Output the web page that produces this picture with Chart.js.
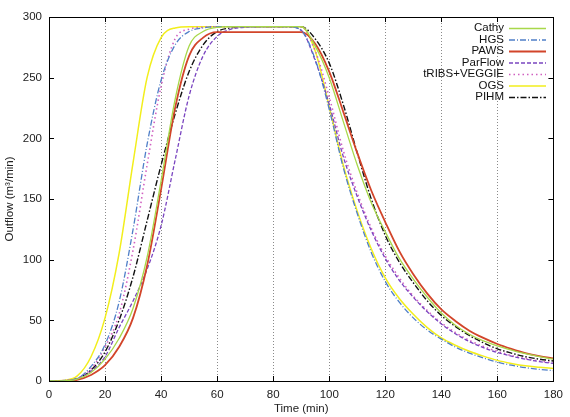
<!DOCTYPE html>
<html>
<head>
<meta charset="utf-8">
<script src="https://cdn.jsdelivr.net/npm/chart.js@4.4.0/dist/chart.umd.min.js"></script>
<style>
  body { margin: 0; background: #fff; }
  #wrap { width: 570px; height: 417px; }
</style>
</head>
<body>
<div id="wrap"><canvas id="mycanvas" width="570" height="417"></canvas></div>
<script>
// time axis (min)
var times = [0,5,10,15,20,25,30,35,40,45,50,55,60,65,70,75,80,85,90,95,100,105,110,115,120,125,130,135,140,145,150,155,160,165,170,175,180];

// outflow (m3/min)
var cathy   = [0,0.1,1.5,7,18,35,60,102,165,232,276,288,291.5,292,292,292,292,292,292,276,250,214,178,147,123,101,84,69,56,46,38.5,33,29,25.5,22.5,20,18];
var hgs     = [0,0.3,2,12,30,65,125,195,248,277,288,291,292,292,292,292,292,292,289,265,224,176,138,106,82,65,52,42,34.5,28,23,19,15.5,13,11,9.6,8.5];
var paws    = [0,0.1,1,5,13,28,52,95,158,225,268,283,287.5,287.5,287.5,287.5,287.5,287.5,287.5,278,255,222,188,157,131,107,88,72,59,49.5,41.5,35.5,30.5,26.5,23,20.5,18.7];
var parflow = [0,0.1,2,8,20,44,66,92,128,182,235,268,284,290,291.5,292,292,292,289,264,228,185,152,124,101,83,69,57,47,39,32.5,27.5,23.5,20.5,18,16,14.5];
var tribs   = [0,0.3,2,10,28,55,108,178,243,282,290,291.5,292,292,292,292,292,292,292,272,234,190,155,126,103,85,70,58,48,40,33.5,28.5,24.5,21,18.5,16.5,15];
var ogs     = [0,0.5,4,20,52,105,180,250,283,291,292,292,292,292,292,292,292,292,292,272,226,178,140,109,85,68,55,44,35.5,29.5,24.5,20.5,17,14.5,12.5,11.3,10.3];
var pihm    = [0,0.2,2,9,24,50,86,132,178,220,255,277,288,291,292,292,292,292,292,282,262,228,188,150,120,98,81,66,54,45,37.5,31.5,26.5,23,20,18,16.5];

var xTicks = [0,20,40,60,80,100,120,140,160,180];
var yTicks = [0,50,100,150,200,250,300];

var FONT = "'Liberation Sans', Arial, Helvetica, sans-serif";

function pts(vals) {
	return times.map(function(t, i) { return {x: t, y: vals[i]}; });
}

function series(label, vals, color, dash, width) {
	return {
		label: label,
		data: pts(vals),
		borderColor: color,
		backgroundColor: color,
		borderDash: dash,
		borderWidth: width,
		pointRadius: 0,
		fill: false,
		cubicInterpolationMode: 'monotone'
	};
}

var datasets = [
	series('Cathy', cathy, '#a8d84a', [], 1.3),
	series('HGS', hgs, '#4f7fc8', [6,2,1,2], 1.3),
	series('PAWS', paws, '#d2452a', [], 1.8),
	series('ParFlow', parflow, '#7a45c0', [4,2], 1.3),
	series('tRIBS+VEGGIE', tribs, '#d060c0', [1.5,3], 1.6),
	series('OGS', ogs, '#f2ee1c', [], 1.5),
	series('PIHM', pihm, '#111111', [6,2,1.5,2], 1.4)
];

// frame, inward ticks and gnuplot style key
var framePlugin = {
	id: 'frame',
	afterDraw: function(chart) {
		var ctx = chart.ctx;
		var a = chart.chartArea;
		var xs = chart.scales.x, ys = chart.scales.y;
		ctx.save();
		ctx.setLineDash([]);
		ctx.strokeStyle = '#000';
		ctx.lineWidth = 1;
		ctx.beginPath();
		xTicks.forEach(function(v) {
			var px = Math.round(xs.getPixelForValue(v)) + 0.5;
			ctx.moveTo(px, a.bottom); ctx.lineTo(px, a.bottom - 5);
			ctx.moveTo(px, a.top); ctx.lineTo(px, a.top + 5);
		});
		yTicks.forEach(function(v) {
			var py = Math.round(ys.getPixelForValue(v)) + 0.5;
			ctx.moveTo(a.left, py); ctx.lineTo(a.left + 5, py);
			ctx.moveTo(a.right, py); ctx.lineTo(a.right - 5, py);
		});
		ctx.stroke();
		ctx.strokeRect(Math.round(a.left) + 0.5, Math.round(a.top) + 0.5,
			Math.round(a.right - a.left), Math.round(a.bottom - a.top));

		// key
		ctx.font = '11.5px ' + FONT;
		ctx.textAlign = 'right';
		ctx.textBaseline = 'middle';
		chart.data.datasets.forEach(function(ds, i) {
			var y = 28 + i * 11.5;
			ctx.fillStyle = '#111';
			ctx.fillText(ds.label, 504, y);
			ctx.strokeStyle = ds.borderColor;
			ctx.lineWidth = ds.borderWidth;
			ctx.setLineDash(ds.borderDash);
			ctx.beginPath();
			ctx.moveTo(509, y + 0.5);
			ctx.lineTo(546, y + 0.5);
			ctx.stroke();
		});
		ctx.restore();
	}
};

var ctx = document.getElementById('mycanvas');

var lineGraph = new Chart(ctx, {
	type: 'line',
	data: { datasets: datasets },
	plugins: [framePlugin],
	options: {
		responsive: false,
		animation: false,
		devicePixelRatio: 1,
		layout: { padding: { top: 17, right: 12, left: 0, bottom: 0 } },
		plugins: {
			legend: { display: false },
			tooltip: { enabled: false }
		},
		scales: {
			x: {
				type: 'linear',
				min: 0,
				max: 180,
				afterFit: function(scale) { scale.height = 36; },
				afterBuildTicks: function(scale) {
					scale.ticks = xTicks.map(function(v) { return {value: v}; });
				},
				ticks: { padding: 7, color: '#222', font: { family: FONT, size: 11.5 }, maxRotation: 0 },
				grid: {
					drawTicks: false,
					lineWidth: 1,
					color: function(c) {
						var v = c.tick ? c.tick.value : 0;
						return (v === 0 || v === 180) ? 'rgba(0,0,0,0)' : '#8a8a8a';
					}
				},
				border: { display: false, dash: [1, 2] },
				title: {
					display: true,
					text: 'Time (min)',
					color: '#222',
					font: { family: FONT, size: 11.5 },
					padding: { top: 0, bottom: 1 }
				}
			},
			y: {
				type: 'linear',
				min: 0,
				max: 300,
				afterFit: function(scale) { scale.width = 49; },
				afterBuildTicks: function(scale) {
					scale.ticks = yTicks.map(function(v) { return {value: v}; });
				},
				ticks: { padding: 7, color: '#222', font: { family: FONT, size: 11.5 } },
				grid: { display: false, drawTicks: false },
				border: { display: false },
				title: {
					display: true,
					text: 'Outflow (m³/min)',
					color: '#222',
					font: { family: FONT, size: 11.5 },
					padding: { top: 3, bottom: 0 }
				}
			}
		}
	}
});
</script>
</body>
</html>
